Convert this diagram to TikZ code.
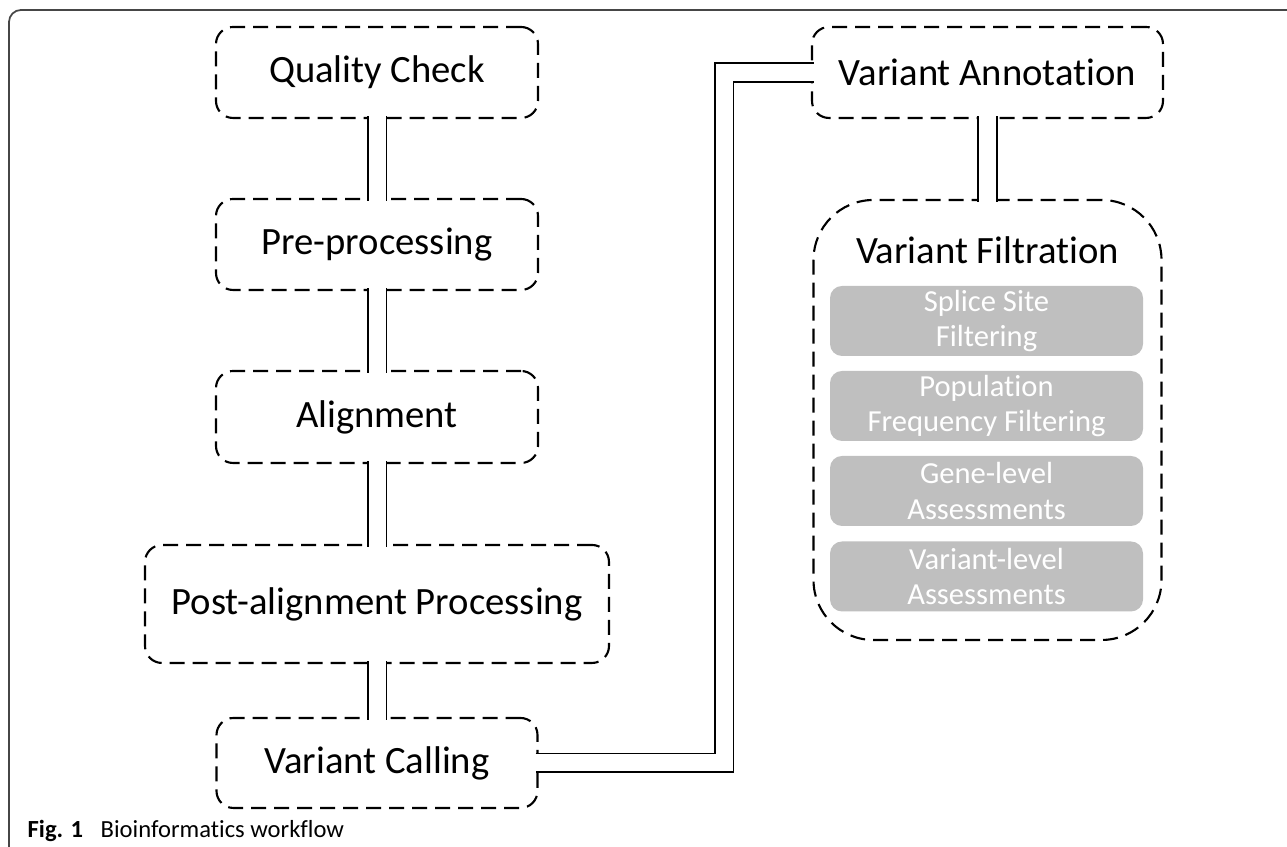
\documentclass[tikz,border=0pt]{standalone}
\usepackage{fontspec}
\setmainfont{Carlito}[Ligatures=NoCommon]
\usepackage{tikz}
\usetikzlibrary{positioning, calc}

\begin{document}
\begin{tikzpicture}[
  stage/.style={draw, line width=0.6pt, dash pattern=on 0.15cm off 0.08cm, rounded corners=0.17cm, inner sep=0pt, font=\fontsize{11}{13}\selectfont},
  filterbox/.style={fill=boxgray, rounded corners=0.12cm, minimum width=3.13cm, minimum height=0.70cm, inner sep=0pt, align=center, text=white, font=\fontsize{8.7}{10}\selectfont},
  link/.style={double, double distance=0.17cm, line width=0.55pt, shorten <=-0.8pt, shorten >=-0.8pt}
]
  % Define colors
  \definecolor{boxgray}{RGB}{191,191,191}
  \definecolor{framegray}{RGB}{70,70,70}

  \useasboundingbox (0,0) rectangle (12.87,8.47);

  % Outer frame
  \draw[framegray, line width=0.5pt, rounded corners=0.12cm] (0.09,0) |- (12.87,8.37);

  % Left column - workflow stages
  \node[stage, minimum width=3.22cm, minimum height=0.91cm] (qc) at (3.77, 7.745) {Quality Check};
  \node[stage, minimum width=3.22cm, minimum height=0.91cm] (pre) at (3.77, 6.025) {Pre-processing};
  \node[stage, minimum width=3.22cm, minimum height=0.92cm] (align) at (3.77, 4.30) {Alignment};
  \node[stage, minimum width=4.64cm, minimum height=1.18cm] (post) at (3.77, 2.43) {Post-alignment Processing};
  \node[stage, minimum width=3.21cm, minimum height=0.90cm] (calling) at (3.77, 0.84) {Variant Calling};

  % Right column - annotation and filtration
  \node[stage, minimum width=3.51cm, minimum height=0.91cm] (annot) at (9.875, 7.745) {Variant Annotation};
  \node[stage, rounded corners=0.6cm, minimum width=3.48cm, minimum height=4.40cm] (filt) at (9.875, 4.27) {};
  \node[font=\fontsize{11}{13}\selectfont] (filttitle) at (9.875, 5.97) {Variant Filtration};

  % Filtering steps
  \node[filterbox] (splice) at (9.865, 5.26) {Splice Site\\Filtering};
  \node[filterbox] (popfreq) at (9.865, 4.41) {Population\\Frequency Filtering};
  \node[filterbox] (genelvl) at (9.865, 3.56) {Gene-level\\Assessments};
  \node[filterbox] (varlvl) at (9.865, 2.705) {Variant-level\\Assessments};

  % Double-line connectors
  \draw[link] (qc) -- (pre);
  \draw[link] (pre) -- (align);
  \draw[link] (align) -- (post);
  \draw[link] (post) -- (calling);
  \draw[link] (annot) -- (filt);

  % Calling to annotation
  \coordinate (bend) at (7.24, 0.84);
  \draw[link] (calling.east) -- (bend) |- (annot.west);

  % Caption
  \node[anchor=base west, inner sep=0pt, font=\fontsize{7}{8}\selectfont] (caption) at (0.27, 0.09) {\textbf{Fig. 1}\hspace{5pt}Bioinformatics workflow};
\end{tikzpicture}
\end{document}
